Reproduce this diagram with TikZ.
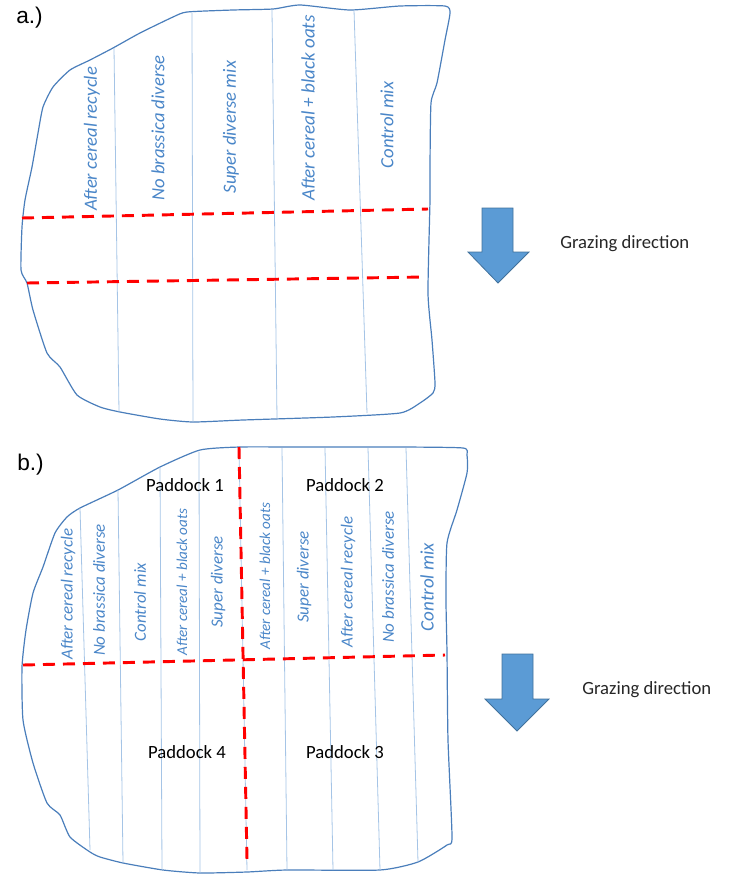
\documentclass[tikz,border=0pt]{standalone}
\usepackage{fontspec}
\setmainfont{Carlito}
\newfontfamily\arialfont{Liberation Sans}
\begin{document}
\begin{tikzpicture}[x=0.75pt,y=-0.75pt,
  outline/.style={draw=fieldblue,line width=0.9pt,line join=round},
  strip/.style={draw=stripblue,line width=0.6pt},
  reddash/.style={draw=red,line width=2.2pt,dash pattern=on 9pt off 6pt},
  lab/.style={rotate=90,text=labblue,font=\itshape\fontsize{#1}{#1}\selectfont,inner sep=0pt},
  lab/.default=12.7,
  paddock/.style={text=black,font=\fontsize{14}{16}\selectfont,inner sep=0pt},
  graze/.style={text=black!85,font=\fontsize{14}{16}\selectfont,anchor=west,inner sep=0pt},
  panel/.style={font=\arialfont\fontsize{17}{20}\selectfont,anchor=west,inner sep=0pt},
  bigarrow/.style={fill=arrowfill,draw=arrowedge,line width=0.6pt}]
\definecolor{fieldblue}{RGB}{74,126,187}
\definecolor{stripblue}{RGB}{165,196,230}
\definecolor{labblue}{RGB}{74,134,200}
\definecolor{arrowfill}{RGB}{91,155,213}
\definecolor{arrowedge}{RGB}{65,113,156}
\useasboundingbox (0,0) rectangle (731,875);

% ---------- panel a ----------
\node[panel] (pa) at (16,18) {a.)};
\draw[outline] plot[smooth cycle,tension=0.35] coordinates {
 (187,12) (233,10) (273,9) (300,5) (350,10) (400,6) (445,6) (450,13) (445,40) (437,83) (431,103)
 (430,167) (430,200) (428,293) (432,340) (435,383) (433,393) (420,403) (400,413) (333,417)
 (243,420) (193,422) (160,419) (120,412) (100,407) (77,395) (60,367) (47,353) (33,310)
 (27,283) (21,270) (22,227) (25,200) (32,167) (38,133) (43,107) (53,87) (70,70) (90,60)
 (113,48) (140,33) (173,17)};
\coordinate (a1t) at (114,48);  \coordinate (a1b) at (119,412);
\coordinate (a2t) at (192,13);  \coordinate (a2b) at (193,422);
\coordinate (a3t) at (272,10);  \coordinate (a3b) at (277,418);
\coordinate (a4t) at (354,10);  \coordinate (a4b) at (367,413);
\draw[strip] (a1t) -- (a1b);
\draw[strip] (a2t) -- (a2b);
\draw[strip] (a3t) -- (a3b);
\draw[strip] (a4t) -- (a4b);
\coordinate (ad1l) at (22,218); \coordinate (ad1r) at (428,209);
\coordinate (ad2l) at (27,283); \coordinate (ad2r) at (425,277);
\draw[reddash] (ad1l) -- (ad1r);
\draw[reddash] (ad2l) -- (ad2r);
\node[lab=14] (la1) at (92,139) {After cereal recycle};
\node[lab=14] (la2) at (158,128) {No brassica diverse};
\node[lab=14] (la3) at (231,127) {Super diverse mix};
\node[lab=14.3] (la4) at (308,108) {After cereal + black oats};
\node[lab=14] (la5) at (387,125) {Control mix};
\draw[bigarrow] (482,208) -- (513,208) -- (513,252) -- (529,252) -- (498,283) -- (468,252) -- (482,252) -- cycle;
\node[graze] (ga) at (560,244) {Grazing direction};

% ---------- panel b ----------
\node[panel] (pb) at (17,465) {b.)};
\draw[outline] plot[smooth cycle,tension=0.35] coordinates {
 (200,450) (240,447) (300,447) (400,447) (463,448) (467,455) (467,473) (457,510) (447,543)
 (446,600) (447,653) (448,740) (452,837) (447,845) (418,862) (380,870) (287,870) (247,872)
 (200,873) (163,870) (123,863) (100,857) (90,852) (70,837) (60,815) (47,803) (33,763)
 (23,720) (22,667) (26,630) (33,593) (43,567) (55,533) (67,517) (80,508) (118,490) (160,467)};
\coordinate (b1t) at (80,508);  \coordinate (b1b) at (90,850);
\coordinate (b2t) at (118,490); \coordinate (b2b) at (123,863);
\coordinate (b3t) at (160,467); \coordinate (b3b) at (162,870);
\coordinate (b4t) at (199,452); \coordinate (b4b) at (200,873);
\coordinate (b5t) at (239,448); \coordinate (b5b) at (247,870);
\coordinate (b6t) at (282,448); \coordinate (b6b) at (287,870);
\coordinate (b7t) at (325,448); \coordinate (b7b) at (333,870);
\coordinate (b8t) at (368,448); \coordinate (b8b) at (380,870);
\coordinate (b9t) at (406,448); \coordinate (b9b) at (418,862);
\foreach \i in {1,...,9} {\draw[strip] (b\i t) -- (b\i b);}
\coordinate (bvt) at (239,447); \coordinate (bvb) at (247,860);
\coordinate (bhl) at (23,665);  \coordinate (bhr) at (445,655);
\draw[reddash] (bvt) -- (bvb);
\draw[reddash] (bhl) -- (bhr);
\node[lab] (lb1) at (68,594) {After cereal recycle};
\node[lab] (lb2) at (99,590) {No brassica diverse};
\node[lab] (lb3) at (140,602) {Control mix};
\node[lab=11.3] (lb4) at (182,582) {After cereal + black oats};
\node[lab] (lb5) at (218,582) {Super diverse};
\node[lab=11.3] (lb6) at (265,576) {After cereal + black oats};
\node[lab] (lb7) at (304,577) {Super diverse};
\node[lab] (lb8) at (348,582) {After cereal recycle};
\node[lab] (lb9) at (388,577) {No brassica diverse};
\node[lab=14.3] (lb10) at (427,587) {Control mix};
\node[paddock] (p1) at (185,485) {Paddock 1};
\node[paddock] (p2) at (345,485) {Paddock 2};
\node[paddock] (p4) at (187,752) {Paddock 4};
\node[paddock] (p3) at (345,752) {Paddock 3};
\draw[bigarrow] (502,654) -- (533,654) -- (533,699) -- (549,699) -- (517,731) -- (485,699) -- (502,699) -- cycle;
\node[graze] (gb) at (582,690) {Grazing direction};
\end{tikzpicture}
\end{document}
